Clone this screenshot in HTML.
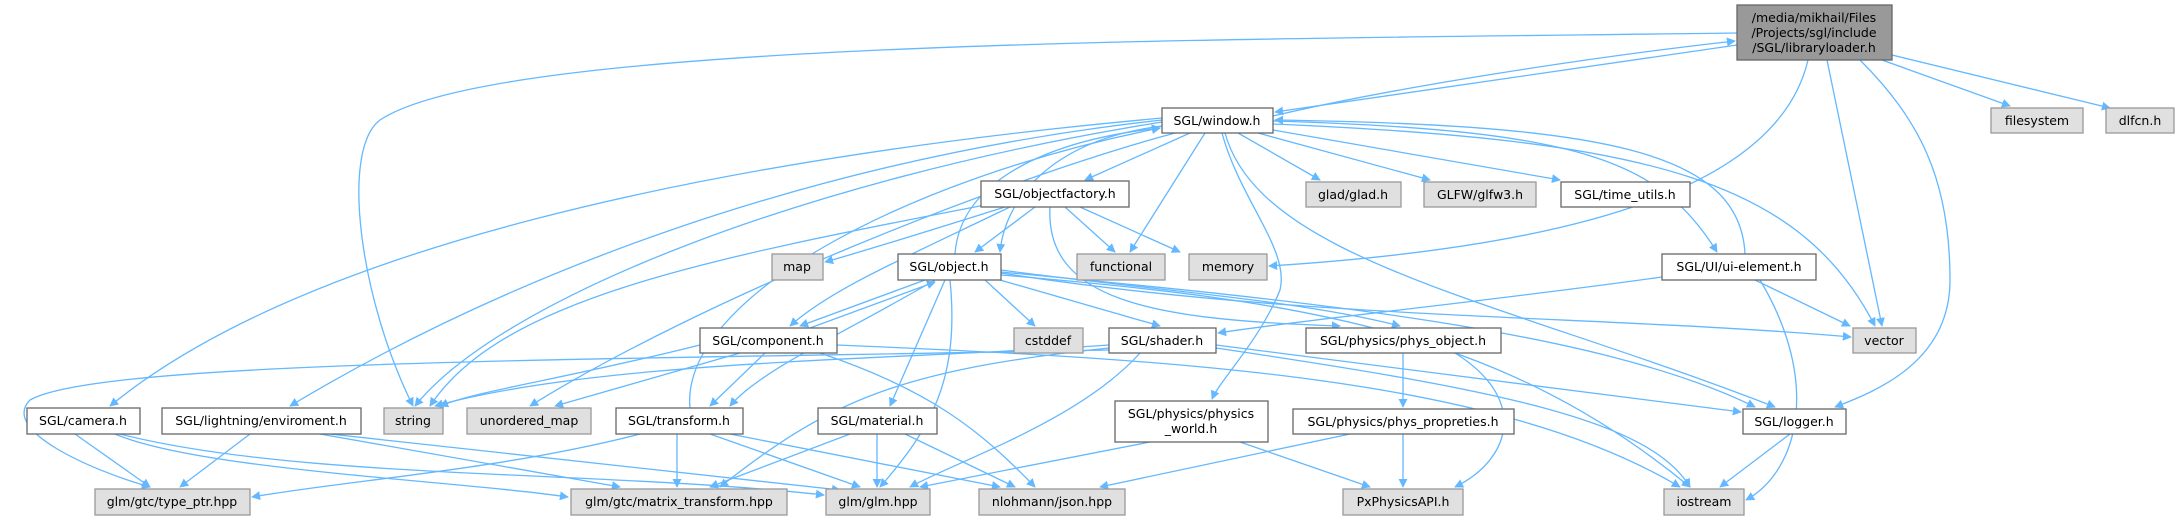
<!DOCTYPE html>
<html><head><meta charset="utf-8"><style>
html,body{margin:0;padding:0;background:#fff;}
svg{display:block;}
text{font-family:"DejaVu Sans","Liberation Sans",sans-serif;font-size:12.5px;fill:#000;}
.e{fill:none;stroke:#63b8ff;stroke-width:1.3;marker-end:url(#a);}
.w{fill:#fff;stroke:#666;stroke-width:1.3;}
.g{fill:#e0e0e0;stroke:#999;stroke-width:1.3;}
.m{fill:#999;stroke:#666;stroke-width:1.3;}
</style></head><body>
<svg width="2175" height="520" viewBox="0 0 2175 520" xmlns="http://www.w3.org/2000/svg">
<defs><marker id="a" viewBox="0 0 10 10" refX="9" refY="5" markerWidth="9" markerHeight="9" orient="auto" markerUnits="userSpaceOnUse"><path d="M0,0 L10,5 L0,10 z" fill="#63b8ff"/></marker></defs>
<g>
<path class="e" d="M1737,45 C1500,80 1330,105 1275,112"/>
<path class="e" d="M1273,116 C1400,86 1600,56 1735,41"/>
<path class="e" d="M1737,33 C1200,40 500,40 380,120 C340,150 360,300 413,406"/>
<path class="e" d="M1808,60 C1780,180 1600,245 1269,266"/>
<path class="e" d="M1827,60 L1882,326"/>
<path class="e" d="M1860,60 C1920,120 1950,180 1950,280 C1950,360 1880,390 1835,407"/>
<path class="e" d="M1882,60 L2010,106"/>
<path class="e" d="M1892,55 L2110,108"/>
<path class="e" d="M1190,133 L1085,180"/>
<path class="e" d="M1205,133 L1130,252"/>
<path class="e" d="M1238,133 L1320,180"/>
<path class="e" d="M1258,133 L1430,180"/>
<path class="e" d="M1273,130 L1560,180"/>
<path class="e" d="M1273,121 C1580,130 1660,160 1717,252"/>
<path class="e" d="M1745,254 C1740,150 1600,125 1275,120"/>
<path class="e" d="M1273,124 C1650,140 1800,180 1875,326"/>
<path class="e" d="M1225,133 C1260,260 1500,300 1775,407"/>
<path class="e" d="M1222,133 C1240,200 1290,250 1280,290 C1260,340 1220,380 1212,399"/>
<path class="e" d="M1162,126 C1050,140 1005,200 1000,252"/>
<path class="e" d="M955,254 C960,180 1050,140 1160,128"/>
<path class="e" d="M1162,122 C800,180 500,300 415,406"/>
<path class="e" d="M1175,133 C1000,180 700,300 530,406"/>
<path class="e" d="M1162,118 C700,160 300,250 110,406"/>
<path class="e" d="M1162,120 C800,160 500,280 290,406"/>
<path class="e" d="M690,408 C680,300 900,180 1160,128"/>
<path class="e" d="M1005,207 C900,240 850,255 825,262"/>
<path class="e" d="M1035,207 L975,252"/>
<path class="e" d="M1010,207 C900,260 830,290 790,326"/>
<path class="e" d="M985,205 C700,260 500,300 430,406"/>
<path class="e" d="M1065,207 L1115,252"/>
<path class="e" d="M1080,207 L1180,252"/>
<path class="e" d="M1050,207 C1045,300 1150,320 1340,326"/>
<path class="e" d="M925,280 L800,326"/>
<path class="e" d="M810,328 L935,282"/>
<path class="e" d="M985,280 L1035,326"/>
<path class="e" d="M1000,280 L1160,326"/>
<path class="e" d="M1001,270 C1150,290 1300,300 1400,326"/>
<path class="e" d="M1001,273 C1300,320 1600,315 1851,337"/>
<path class="e" d="M1001,272 C1300,300 1600,330 1755,407"/>
<path class="e" d="M1001,275 C1300,300 1500,330 1690,487"/>
<path class="e" d="M950,280 C960,380 930,430 880,487"/>
<path class="e" d="M945,280 L890,406"/>
<path class="e" d="M935,280 C850,330 760,370 730,406"/>
<path class="e" d="M700,345 C560,380 480,390 440,406"/>
<path class="e" d="M740,353 L555,406"/>
<path class="e" d="M765,353 L710,406"/>
<path class="e" d="M820,353 C930,390 980,430 1035,487"/>
<path class="e" d="M837,345 C1200,360 1500,380 1680,487"/>
<path class="e" d="M1109,345 C900,360 600,360 435,406"/>
<path class="e" d="M1109,350 C600,360 100,360 30,400 C0,430 90,470 150,487"/>
<path class="e" d="M1140,353 C1080,420 960,460 910,487"/>
<path class="e" d="M1109,348 C900,370 830,400 720,487"/>
<path class="e" d="M1216,345 L1741,412"/>
<path class="e" d="M1216,348 C1500,390 1650,420 1690,487"/>
<path class="e" d="M1662,277 C1500,300 1300,320 1218,333"/>
<path class="e" d="M1755,280 L1850,326"/>
<path class="e" d="M1760,280 C1820,380 1800,470 1746,500"/>
<path class="e" d="M1403,353 L1403,407"/>
<path class="e" d="M1455,353 C1530,400 1510,460 1455,487"/>
<path class="e" d="M1403,434 L1403,487"/>
<path class="e" d="M1350,434 L1100,487"/>
<path class="e" d="M1150,442 L920,487"/>
<path class="e" d="M1240,442 L1370,487"/>
<path class="e" d="M1790,434 L1720,487"/>
<path class="e" d="M75,434 L150,487"/>
<path class="e" d="M115,434 C200,470 450,480 568,497"/>
<path class="e" d="M120,434 C300,480 600,470 824,495"/>
<path class="e" d="M250,434 L180,487"/>
<path class="e" d="M320,434 L620,487"/>
<path class="e" d="M330,434 L840,490"/>
<path class="e" d="M640,434 C500,470 350,480 252,497"/>
<path class="e" d="M677,434 L677,487"/>
<path class="e" d="M710,434 L860,487"/>
<path class="e" d="M730,434 L1000,487"/>
<path class="e" d="M850,434 L710,487"/>
<path class="e" d="M877,434 L877,487"/>
<path class="e" d="M905,434 L1015,487"/>
</g>
<g text-anchor="middle">
<rect class="m" x="1737" y="5" width="155" height="55"/>
<text x="1814" y="22">/media/mikhail/Files</text><text x="1814" y="37">/Projects/sgl/include</text><text x="1814" y="52">/SGL/libraryloader.h</text>
<rect class="w" x="1162" y="108" width="111" height="25"/><text x="1217" y="125">SGL/window.h</text>
<rect class="g" x="1991" y="108" width="92" height="25"/><text x="2037" y="125">filesystem</text>
<rect class="g" x="2106" y="108" width="68" height="25"/><text x="2140" y="125">dlfcn.h</text>
<rect class="w" x="981" y="181" width="148" height="26"/><text x="1055" y="198">SGL/objectfactory.h</text>
<rect class="g" x="1306" y="182" width="95" height="25"/><text x="1353" y="199">glad/glad.h</text>
<rect class="g" x="1424" y="182" width="112" height="25"/><text x="1480" y="199">GLFW/glfw3.h</text>
<rect class="w" x="1561" y="182" width="129" height="25"/><text x="1625" y="199">SGL/time_utils.h</text>
<rect class="g" x="772" y="254" width="51" height="26"/><text x="797" y="271">map</text>
<rect class="w" x="898" y="254" width="103" height="26"/><text x="949" y="271">SGL/object.h</text>
<rect class="g" x="1077" y="254" width="88" height="26"/><text x="1121" y="271">functional</text>
<rect class="g" x="1189" y="254" width="78" height="26"/><text x="1228" y="271">memory</text>
<rect class="w" x="1662" y="254" width="154" height="26"/><text x="1739" y="271">SGL/UI/ui-element.h</text>
<rect class="w" x="700" y="328" width="137" height="25"/><text x="768" y="345">SGL/component.h</text>
<rect class="g" x="1014" y="328" width="69" height="25"/><text x="1048" y="345">cstddef</text>
<rect class="w" x="1109" y="328" width="107" height="25"/><text x="1162" y="345">SGL/shader.h</text>
<rect class="w" x="1306" y="328" width="195" height="25"/><text x="1403" y="345">SGL/physics/phys_object.h</text>
<rect class="g" x="1853" y="328" width="63" height="25"/><text x="1884" y="345">vector</text>
<rect class="w" x="27" y="408" width="113" height="26"/><text x="83" y="425">SGL/camera.h</text>
<rect class="w" x="162" y="408" width="199" height="26"/><text x="261" y="425">SGL/lightning/enviroment.h</text>
<rect class="g" x="384" y="408" width="59" height="26"/><text x="413" y="425">string</text>
<rect class="g" x="467" y="408" width="124" height="26"/><text x="529" y="425">unordered_map</text>
<rect class="w" x="616" y="408" width="127" height="26"/><text x="679" y="425">SGL/transform.h</text>
<rect class="w" x="818" y="408" width="119" height="26"/><text x="877" y="425">SGL/material.h</text>
<rect class="w" x="1115" y="401" width="153" height="41"/><text x="1191" y="418">SGL/physics/physics</text><text x="1191" y="433">_world.h</text>
<rect class="w" x="1293" y="409" width="221" height="25"/><text x="1403" y="426">SGL/physics/phys_propreties.h</text>
<rect class="w" x="1743" y="409" width="103" height="25"/><text x="1794" y="426">SGL/logger.h</text>
<rect class="g" x="95" y="489" width="155" height="26"/><text x="172" y="506">glm/gtc/type_ptr.hpp</text>
<rect class="g" x="571" y="489" width="216" height="26"/><text x="679" y="506">glm/gtc/matrix_transform.hpp</text>
<rect class="g" x="826" y="489" width="104" height="26"/><text x="878" y="506">glm/glm.hpp</text>
<rect class="g" x="979" y="489" width="146" height="26"/><text x="1052" y="506">nlohmann/json.hpp</text>
<rect class="g" x="1343" y="489" width="120" height="26"/><text x="1403" y="506">PxPhysicsAPI.h</text>
<rect class="g" x="1664" y="489" width="80" height="26"/><text x="1704" y="506">iostream</text>
</g>
</svg>
</body></html>
